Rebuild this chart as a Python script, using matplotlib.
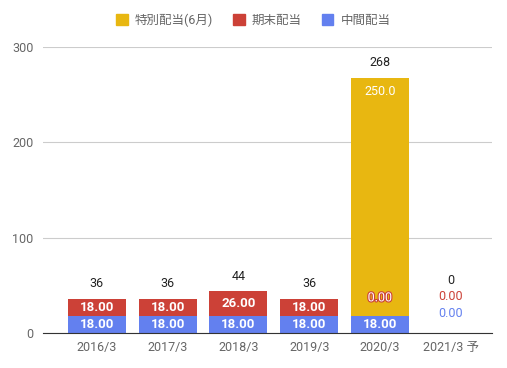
import matplotlib
matplotlib.use("Agg")
import matplotlib.pyplot as plt
import matplotlib.patheffects as pe
import numpy as np
from matplotlib.patches import Patch

plt.rcParams["font.family"] = ["Roboto", "Noto Sans CJK JP", "DejaVu Sans"]

categories = ["2016/3", "2017/3", "2018/3", "2019/3", "2020/3", "2021/3 予"]
interim = [18.0, 18.0, 18.0, 18.0, 18.0, 0.0]
year_end = [18.0, 18.0, 26.0, 18.0, 0.0, 0.0]
special = [0.0, 0.0, 0.0, 0.0, 250.0, 0.0]
series_names = ["特別配当(6月)", "期末配当", "中間配当"]

C_YELLOW = "#e8b711"
C_RED = "#cc4137"
C_BLUE = "#6380ef"

fig = plt.figure(figsize=(5.07, 3.68), dpi=100)
ax = fig.add_axes([0.085, 0.095, 0.885, 0.777])

x = np.arange(len(categories))
w = 0.82
interim = np.array(interim)
year_end = np.array(year_end)
special = np.array(special)
totals = interim + year_end + special

ax.bar(x, interim, w, color=C_BLUE, zorder=3)
ax.bar(x, year_end, w, bottom=interim, color=C_RED, zorder=3)
ax.bar(x, special, w, bottom=interim + year_end, color=C_YELLOW, zorder=3)

ax.set_ylim(0, 300)
ax.set_xlim(-0.76, 5.58)
ax.set_yticks([0, 100, 200, 300])
ax.set_xticks(x)
ax.set_xticklabels(categories)
ax.tick_params(length=0, labelsize=9, colors="#666666", pad=6)
ax.tick_params(axis="y", pad=7)
ax.yaxis.grid(True, color="#cccccc", linewidth=0.8, zorder=0)
ax.set_axisbelow(True)
for s in ["top", "right", "left"]:
    ax.spines[s].set_visible(False)
ax.spines["bottom"].set_color("#333333")
ax.spines["bottom"].set_zorder(4)

for i in range(len(categories)):
    tot = totals[i]
    if tot == 0:
        # empty bar: labels stacked above the baseline
        ax.annotate(f"{tot:.0f}", (x[i], 0), xytext=(0, 38), textcoords="offset points",
                    ha="center", va="center", fontsize=9, color="#222222")
        ax.annotate(f"{year_end[i]:.2f}", (x[i], 0), xytext=(0, 26), textcoords="offset points",
                    ha="center", va="center", fontsize=9, color=C_RED)
        ax.annotate(f"{interim[i]:.2f}", (x[i], 0), xytext=(0, 14), textcoords="offset points",
                    ha="center", va="center", fontsize=9, color=C_BLUE)
        continue
    ax.annotate(f"{tot:.0f}", (x[i], tot), xytext=(0, 6), textcoords="offset points",
                ha="center", va="bottom", fontsize=9, color="#222222")
    ax.text(x[i], interim[i] / 2, f"{interim[i]:.2f}", ha="center", va="center",
            fontsize=9.5, color="white", fontweight="bold", zorder=5)
    if year_end[i] > 0:
        ax.text(x[i], interim[i] + year_end[i] / 2, f"{year_end[i]:.2f}", ha="center",
                va="center", fontsize=9.5, color="white", fontweight="bold", zorder=5)
    else:
        ax.annotate(f"{year_end[i]:.2f}", (x[i], interim[i]), xytext=(0, 13),
                    textcoords="offset points", ha="center", va="center", fontsize=9,
                    color="white", zorder=5,
                    path_effects=[pe.withStroke(linewidth=1.6, foreground=C_RED)])
    if special[i] > 0:
        ax.annotate(f"{special[i]:.1f}", (x[i], tot), xytext=(0, -10),
                    textcoords="offset points", ha="center", va="center", fontsize=9,
                    color="white", zorder=5)

handles = [Patch(color=C_YELLOW), Patch(color=C_RED), Patch(color=C_BLUE)]
fig.legend(handles, series_names, loc="center", bbox_to_anchor=(0.5, 0.945), ncol=3,
           frameon=False, fontsize=9, handlelength=0.9, handleheight=0.9,
           handletextpad=0.6, columnspacing=1.6, labelcolor="#666666")

fig.savefig("out.png", dpi=100)
